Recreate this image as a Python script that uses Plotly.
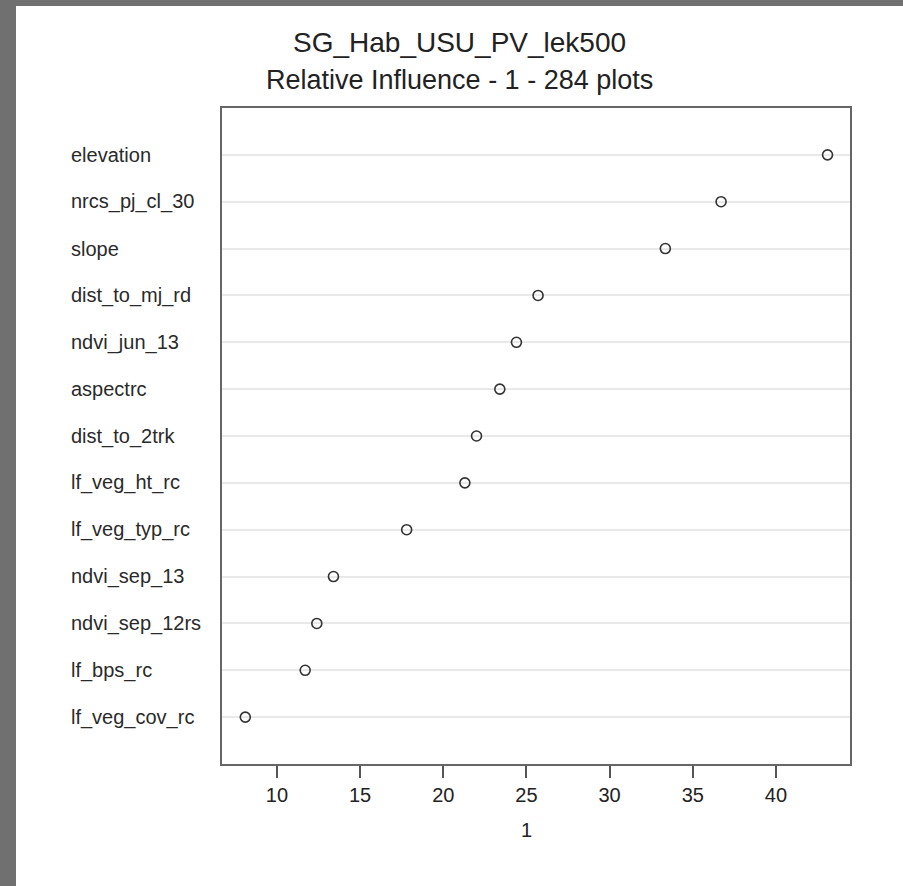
import plotly.graph_objects as go

# Relative influence of each predictor (top to bottom)
variables = [
    "elevation", "nrcs_pj_cl_30", "slope", "dist_to_mj_rd", "ndvi_jun_13",
    "aspectrc", "dist_to_2trk", "lf_veg_ht_rc", "lf_veg_typ_rc",
    "ndvi_sep_13", "ndvi_sep_12rs", "lf_bps_rc", "lf_veg_cov_rc",
]
influence = [43.1, 36.7, 33.35, 25.7, 24.4, 23.4, 22.0, 21.3, 17.8,
             13.4, 12.4, 11.7, 8.1]
x_ticks = [10, 15, 20, 25, 30, 35, 40]

title_main = "SG_Hab_USU_PV_lek500"
title_sub = "Relative Influence - 1 - 284 plots"
x_title = "1"

W, H = 903, 886
L, R, T, B = 222, 53, 108, 122
pw, ph = W - L - R, H - T - B


def px_x(px):
    return (px - L) / pw


def px_y(py):
    return (H - B - py) / ph


FONT = "Liberation Sans, Arial, sans-serif"
INK = "#333333"

fig = go.Figure()
fig.add_trace(go.Scatter(
    x=influence, y=variables, mode="markers",
    marker=dict(symbol="circle-open", size=10, color=INK,
                line=dict(width=1.6, color=INK)),
    showlegend=False, hoverinfo="x+y",
))

annotations = [
    dict(text=title_main, xref="paper", yref="paper", x=px_x(459), y=px_y(43),
         xanchor="center", yanchor="middle", showarrow=False,
         font=dict(family=FONT, size=28, color="#222222")),
    dict(text=title_sub, xref="paper", yref="paper", x=px_x(459), y=px_y(80),
         xanchor="center", yanchor="middle", showarrow=False,
         font=dict(family=FONT, size=27, color="#222222")),
    dict(text=x_title, xref="paper", yref="paper", x=px_x(526), y=px_y(830),
         xanchor="center", yanchor="middle", showarrow=False,
         font=dict(family=FONT, size=20, color="#222222")),
]
# Left-aligned row labels
for v in variables:
    annotations.append(dict(
        text=v, xref="paper", yref="y", x=px_x(69), y=v,
        xanchor="left", yanchor="middle", showarrow=False,
        font=dict(family=FONT, size=20, color="#2a2a2a"),
    ))

fig.update_layout(
    width=W, height=H,
    margin=dict(l=L, r=R, t=T, b=B, pad=0),
    paper_bgcolor="#707070",
    plot_bgcolor="white",
    font=dict(family=FONT, size=20, color="#222222"),
    annotations=annotations,
    shapes=[dict(type="rect", xref="paper", yref="paper",
                 x0=px_x(16), x1=px_x(W + 5), y0=px_y(H + 5), y1=px_y(6),
                 fillcolor="white", line=dict(width=0), layer="below")],
    xaxis=dict(
        range=[6.7, 44.45], tickvals=x_ticks, ticktext=[str(t) for t in x_ticks],
        ticks="outside", ticklen=12, tickwidth=1.5, tickcolor="#555555",
        showgrid=False, zeroline=False,
        showline=True, mirror=True, linecolor="#666666", linewidth=2,
        tickfont=dict(family=FONT, size=20, color="#222222"),
    ),
    yaxis=dict(
        type="category", categoryorder="array",
        categoryarray=variables[::-1], range=[-1, len(variables)],
        showticklabels=False, ticks="",
        showgrid=True, gridcolor="#e9e9e9", gridwidth=2, zeroline=False,
        showline=True, mirror=True, linecolor="#666666", linewidth=2,
    ),
)

fig.write_html("out.html")
